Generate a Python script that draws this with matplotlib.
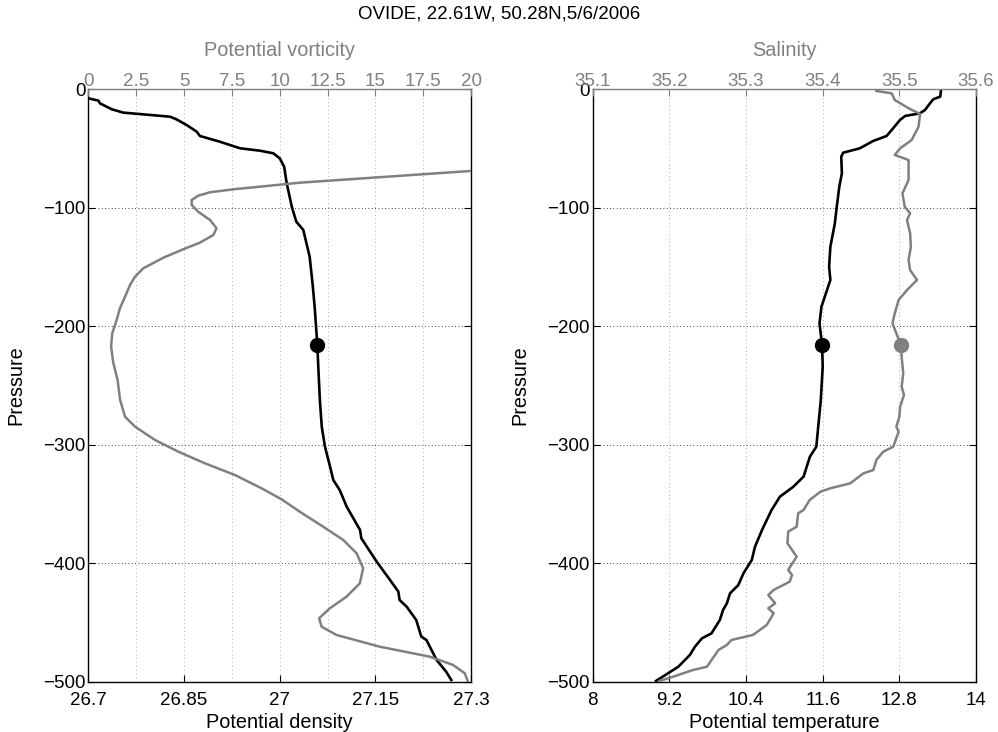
import matplotlib

matplotlib.use("Agg")
import matplotlib.pyplot as plt
import numpy as np

plt.rcParams["font.family"] = ["Liberation Sans", "DejaVu Sans"]
plt.rcParams["font.size"] = 13.5

GRAY = "#808080"

# potential density profile (depth in dbar, sigma)
dens_p = [7.6, 9.6, 11.8, 16.9, 19.7, 23.1, 25.3, 30.1, 35.8, 39.4, 44.2, 49.8,
          51.8, 54.0, 58.2, 65.3, 79.3, 99.1, 111.7, 118.7, 141.3, 166.6, 184.8,
          215.8, 240.0, 262.2, 285.0, 301.6, 318.5, 329.7, 338.1, 352.2, 371.9,
          378.9, 398.6, 414.1, 423.9, 431.0, 436.6, 447.8, 461.9, 464.7, 481.6,
          491.5, 498.5]
dens = [26.700, 26.716, 26.718, 26.737, 26.755, 26.828, 26.838, 26.854, 26.870,
        26.875, 26.906, 26.938, 26.969, 26.990, 27.000, 27.007, 27.011, 27.019,
        27.026, 27.037, 27.047, 27.052, 27.055, 27.059, 27.061, 27.063, 27.066,
        27.071, 27.079, 27.084, 27.094, 27.105, 27.126, 27.128, 27.152, 27.173,
        27.186, 27.188, 27.199, 27.214, 27.222, 27.230, 27.246, 27.261, 27.269]

# potential vorticity profile
pv_p = [64.0, 68.9, 78.8, 81.6, 84.4, 86.9, 89.8, 93.4, 97.6, 103.3, 110.3,
        117.3, 123.0, 129.4, 135.0, 142.1, 151.1, 158.1, 165.1, 175.0, 184.8,
        194.7, 205.9, 217.2, 231.2, 245.3, 262.2, 276.3, 284.7, 295.9, 305.8,
        315.6, 325.5, 336.7, 346.0, 356.5, 369.1, 380.3, 391.6, 404.2, 416.9,
        428.2, 438.0, 446.4, 453.5, 460.5, 470.4, 478.8, 485.8, 492.8, 499.9]
pv = [24.0, 20.0, 11.05, 9.32, 7.57, 6.36, 5.74, 5.40, 5.40, 5.74, 6.36, 6.70,
      6.53, 5.83, 4.96, 3.92, 2.87, 2.44, 2.18, 1.92, 1.65, 1.48, 1.25, 1.19,
      1.31, 1.53, 1.66, 1.92, 2.44, 3.48, 4.70, 6.09, 7.66, 9.05, 10.10, 11.05,
      12.27, 13.32, 14.02, 14.36, 14.19, 13.49, 12.62, 12.06, 12.19, 12.97,
      15.23, 17.84, 19.06, 19.67, 19.84]

# potential temperature profile
temp_p = [1.4, 6.2, 8.4, 11.8, 17.5, 20.3, 22.5, 25.9, 34.3, 39.4, 43.6, 49.8,
          53.5, 56.9, 70.9, 82.2, 99.1, 113.1, 132.8, 149.7, 160.9, 172.2, 183.5,
          197.5, 215.8, 234.1, 262.2, 284.7, 301.6, 310.0, 326.9, 335.4, 343.8,
          355.0, 371.9, 386.0, 397.2, 408.4, 418.3, 425.3, 433.8, 439.4, 447.8,
          459.1, 463.3, 470.4, 477.4, 487.3, 492.8, 499.3]
temp = [13.45, 13.44, 13.33, 13.28, 13.20, 13.12, 12.89, 12.81, 12.68, 12.60,
        12.39, 12.18, 11.92, 11.89, 11.90, 11.86, 11.82, 11.79, 11.72, 11.70,
        11.72, 11.65, 11.58, 11.55, 11.59, 11.60, 11.57, 11.53, 11.50, 11.40,
        11.30, 11.14, 10.93, 10.80, 10.65, 10.54, 10.49, 10.36, 10.28, 10.15,
        10.10, 10.04, 9.99, 9.86, 9.71, 9.60, 9.52, 9.34, 9.18, 8.99]

# salinity profile
sal_p = [1.4, 3.4, 9.0, 16.0, 20.8, 31.6, 42.8, 49.8, 55.4, 59.7, 76.5, 87.8,
         99.1, 104.6, 110.3, 121.5, 132.8, 144.0, 152.5, 160.9, 169.4, 177.8,
         189.0, 197.5, 205.9, 215.8, 225.6, 239.7, 251.0, 258.0, 267.8, 276.3,
         284.7, 289.0, 301.6, 305.8, 312.8, 321.3, 324.1, 332.5, 336.7, 339.6,
         346.6, 355.0, 357.8, 369.1, 373.3, 383.1, 394.4, 405.6, 409.9, 415.5,
         422.5, 426.8, 433.8, 438.0, 442.2, 452.0, 460.5, 464.7, 468.9, 473.2,
         487.3, 490.0, 495.7, 499.3]
sal = [35.470, 35.490, 35.494, 35.512, 35.527, 35.525, 35.516, 35.501, 35.494,
       35.512, 35.512, 35.504, 35.507, 35.514, 35.510, 35.514, 35.515, 35.512,
       35.514, 35.523, 35.510, 35.499, 35.494, 35.491, 35.496, 35.502, 35.503,
       35.505, 35.503, 35.506, 35.501, 35.500, 35.496, 35.499, 35.492, 35.479,
       35.470, 35.466, 35.453, 35.436, 35.410, 35.397, 35.383, 35.375, 35.368,
       35.366, 35.355, 35.354, 35.366, 35.355, 35.360, 35.357, 35.336, 35.329,
       35.338, 35.329, 35.336, 35.327, 35.309, 35.281, 35.275, 35.264, 35.249,
       35.231, 35.205, 35.187]

# reference level marked on each profile
mark_p = 216
mark_dens = 27.059
mark_temp = 11.59
mark_sal = 35.502

dens_ticks = [26.7, 26.85, 27, 27.15, 27.3]
dens_tick_labels = ["26.7", "26.85", "27", "27.15", "27.3"]
pv_ticks = [0, 2.5, 5, 7.5, 10, 12.5, 15, 17.5, 20]
pv_tick_labels = ["0", "2.5", "5", "7.5", "10", "12.5", "15", "17.5", "20"]
temp_ticks = [8, 9.2, 10.4, 11.6, 12.8, 14]
temp_tick_labels = ["8", "9.2", "10.4", "11.6", "12.8", "14"]
sal_ticks = [35.1, 35.2, 35.3, 35.4, 35.5, 35.6]
sal_tick_labels = ["35.1", "35.2", "35.3", "35.4", "35.5", "35.6"]
p_ticks = [-500, -400, -300, -200, -100, 0]

DOT = (0, (1, 3))
LABEL_SIZE = 14.3


def setup_panel(ax, top, bot_lim, bot_ticks, bot_labels, bot_minor,
                top_lim, top_ticks, top_labels, bot_name, top_name):
    ax.set_xlim(*bot_lim)
    ax.set_ylim(-500, 0)
    ax.set_xticks(bot_ticks)
    ax.set_xticklabels(bot_labels)
    ax.set_xticks(bot_minor, minor=True)
    ax.set_yticks(p_ticks)
    ax.tick_params(which="both", direction="in", top=False, right=True,
                   length=5, width=0.8, pad=2)
    ax.tick_params(axis="x", pad=7)
    ax.tick_params(which="minor", length=0)
    ax.xaxis.grid(True, which="both", color="#b0b0b0", linestyle=DOT, lw=0.7)
    ax.yaxis.grid(True, color="black", linestyle=DOT, lw=0.6)
    ax.set_axisbelow(True)
    ax.spines["top"].set_visible(False)
    for s in ax.spines.values():
        s.set_linewidth(1.0)
    ax.set_xlabel(bot_name, fontsize=LABEL_SIZE, labelpad=3)
    ax.set_ylabel("Pressure", fontsize=LABEL_SIZE, labelpad=13)

    top.set_xlim(*top_lim)
    top.set_xticks(top_ticks)
    top.set_xticklabels(top_labels)
    top.tick_params(axis="x", direction="in", length=5, width=0.8, pad=-0.5,
                    colors=GRAY, labelcolor=GRAY)
    for side in ("left", "right", "bottom"):
        top.spines[side].set_visible(False)
    top.spines["top"].set_color(GRAY)
    top.spines["top"].set_linewidth(1.0)
    top.set_xlabel(top_name, color=GRAY, fontsize=LABEL_SIZE, labelpad=12)


fig = plt.figure(figsize=(9.98, 7.32), dpi=100)

# left: density and potential vorticity
ax1 = fig.add_axes([0.0885, 0.0686, 0.3835, 0.8094])
ax1.plot(dens, -np.array(dens_p), color="black", lw=1.9)
ax1.plot(mark_dens, -mark_p, "o", color="black", ms=10)
ax1t = ax1.twiny()
ax1t.plot(pv, -np.array(pv_p), color=GRAY, lw=1.8)
setup_panel(ax1, ax1t, (26.7, 27.3), dens_ticks, dens_tick_labels,
            np.linspace(26.7, 27.3, 9), (0, 20), pv_ticks, pv_tick_labels,
            "Potential density", "Potential vorticity")

# right: temperature and salinity
ax2 = fig.add_axes([0.5939, 0.0686, 0.3841, 0.8094])
ax2.plot(temp, -np.array(temp_p), color="black", lw=1.9)
ax2.plot(mark_temp, -mark_p, "o", color="black", ms=10)
ax2t = ax2.twiny()
ax2t.plot(sal, -np.array(sal_p), color=GRAY, lw=1.8)
ax2t.plot(mark_sal, -mark_p, "o", color=GRAY, ms=10)
setup_panel(ax2, ax2t, (8, 14), temp_ticks, temp_tick_labels, temp_ticks,
            (35.1, 35.6), sal_ticks, sal_tick_labels,
            "Potential temperature", "Salinity")

fig.text(0.5, 1 - 14 / 732, "OVIDE, 22.61W, 50.28N,5/6/2006",
         ha="center", va="center")

fig.savefig("out.png", dpi=100)
